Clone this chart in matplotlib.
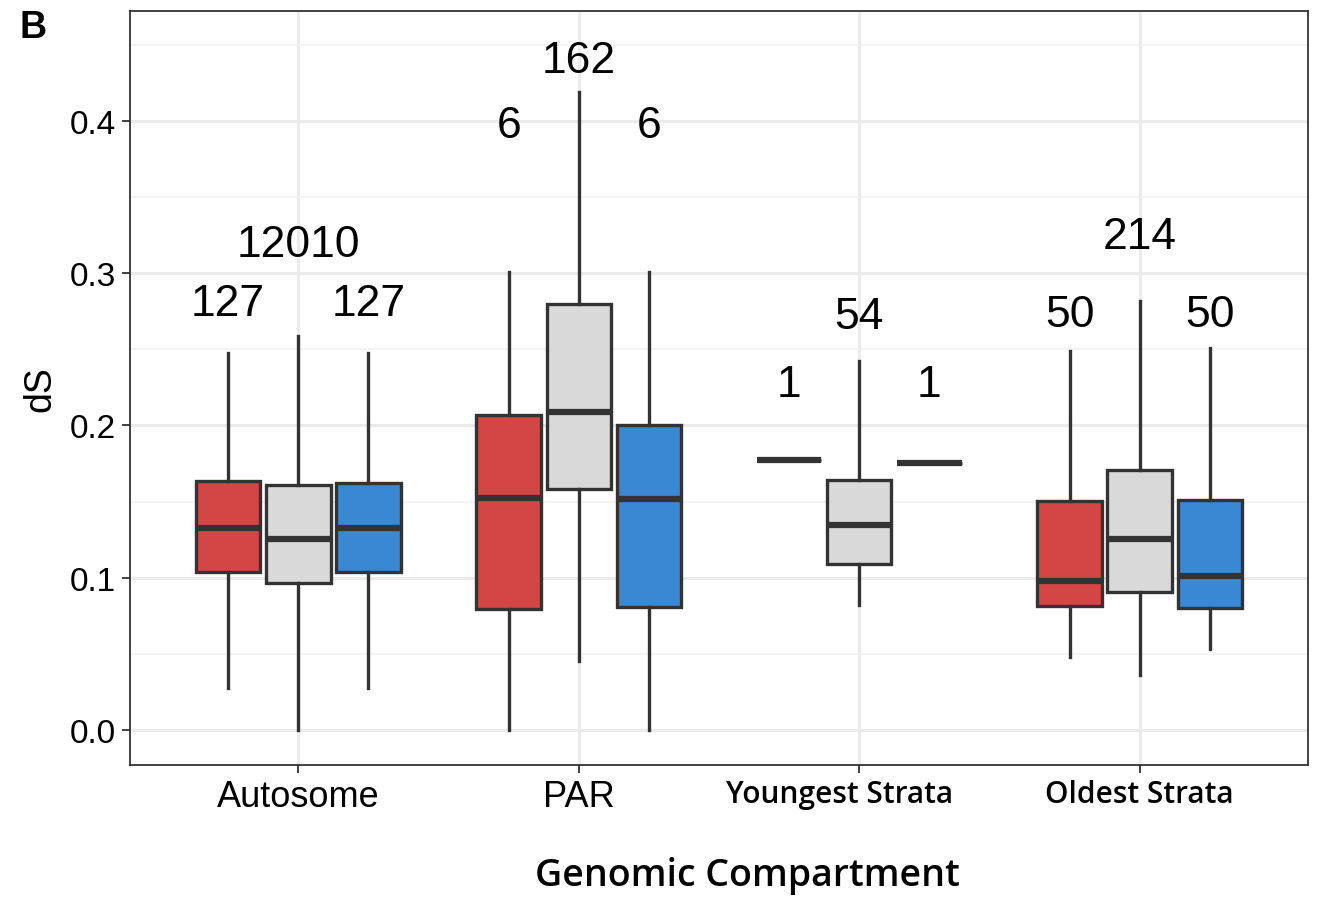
import matplotlib
matplotlib.use("Agg")
import matplotlib.pyplot as plt
from matplotlib.ticker import MultipleLocator

# Box statistics: (whislo, q1, median, q3, whishi)
compartments = ["Autosome", "PAR", "Youngest Strata", "Oldest Strata"]
colors = ["#D44646", "#D9D9D9", "#3A87D3"]

red_stats = [
    (0.0276, 0.1038, 0.1327, 0.1635, 0.2476),
    (0.0, 0.0795, 0.1524, 0.2069, 0.3008),
    (0.1773, 0.1773, 0.1773, 0.1773, 0.1773),
    (0.0479, 0.0814, 0.0979, 0.1504, 0.2489),
]
gray_stats = [
    (0.0, 0.0966, 0.1255, 0.1610, 0.2588),
    (0.0453, 0.1583, 0.2089, 0.2798, 0.4190),
    (0.0821, 0.1090, 0.1346, 0.1642, 0.2424),
    (0.0361, 0.0906, 0.1255, 0.1708, 0.2818),
]
blue_stats = [
    (0.0276, 0.1038, 0.1327, 0.1622, 0.2476),
    (0.0, 0.0808, 0.1517, 0.2003, 0.3008),
    (0.1754, 0.1754, 0.1754, 0.1754, 0.1754),
    (0.0532, 0.0801, 0.1011, 0.1511, 0.2509),
]

# sample sizes shown above each box, and the height they sit at
red_n = [127, 6, 1, 50]
gray_n = [12010, 162, 54, 214]
blue_n = [127, 6, 1, 50]
red_label_y = [0.2798, 0.3967, 0.2266, 0.2732]
gray_label_y = [0.3190, 0.4394, 0.2713, 0.3238]
blue_label_y = [0.2798, 0.3967, 0.2266, 0.2732]

series = [
    (red_stats, red_n, red_label_y),
    (gray_stats, gray_n, gray_label_y),
    (blue_stats, blue_n, blue_label_y),
]

fig = plt.figure(figsize=(13.2, 9.03), dpi=100)
ax = fig.add_axes([130 / 1320, 137 / 903, 1178 / 1320, 754 / 903])

dark = "#333333"
offset = 0.25
width = 0.23
xs = range(1, len(compartments) + 1)

for j, (stats, ns, ly) in enumerate(series):
    pos = [x + (j - 1) * offset for x in xs]
    bstats = [dict(whislo=s[0], q1=s[1], med=s[2], q3=s[3], whishi=s[4], fliers=[])
              for s in stats]
    ax.bxp(bstats, positions=pos, widths=width, patch_artist=True, showcaps=False,
           boxprops=dict(facecolor=colors[j], edgecolor=dark, linewidth=2.4),
           whiskerprops=dict(color=dark, linewidth=2.4),
           medianprops=dict(color=dark, linewidth=4.5, solid_capstyle="butt"),
           zorder=3)
    for p, n, y in zip(pos, ns, ly):
        ax.text(p, y, str(n), ha="center", va="center", fontsize=32,
                family="Liberation Sans", color="black", zorder=4)

ax.set_xlim(0.4, 4.6)
ax.set_ylim(-0.023, 0.4722)
ax.yaxis.set_minor_locator(MultipleLocator(0.05))
ax.set_yticks([0.0, 0.1, 0.2, 0.3, 0.4])
ax.set_yticklabels(["0.0", "0.1", "0.2", "0.3", "0.4"], fontsize=24,
                   family="Liberation Sans")
ax.set_xticks(list(xs))
# the "Youngest Strata" label sits a little left of its tick in the original
tick_text = [c + "     " if c == "Youngest Strata" else c for c in compartments]
ax.set_xticklabels(tick_text, fontsize=26)
for lbl in ax.get_xticklabels():
    if "Strata" in lbl.get_text():
        lbl.set_family("Open Sans")
        lbl.set_fontsize(21.5)
        lbl.set_fontweight("semibold")
    else:
        lbl.set_family("Liberation Sans")

ax.grid(which="major", color="#EBEBEB", linewidth=2.2, zorder=0)
ax.grid(which="minor", axis="y", color="#F2F2F2", linewidth=1.2, zorder=0)
ax.set_axisbelow(True)
for sp in ax.spines.values():
    sp.set_color("#333333")
    sp.set_linewidth(1.3)
ax.tick_params(which="major", length=6, width=1.3, color="#333333", pad=4)
ax.tick_params(which="minor", length=0)

ax.set_ylabel("dS", fontsize=27, family="Liberation Sans", labelpad=8)
ax.set_xlabel("Genomic Compartment", fontsize=27, family="Open Sans",
              fontweight="semibold")
ax.xaxis.set_label_coords((747 - 130) / 1178, (766 - 876) / 754)
ax.xaxis.label.set_va("center")

fig.text(20 / 1320, 1 - 28 / 903, "B", fontsize=27, fontweight="bold",
         family="Liberation Sans", va="center", ha="left")

fig.savefig("out.png", dpi=100)
